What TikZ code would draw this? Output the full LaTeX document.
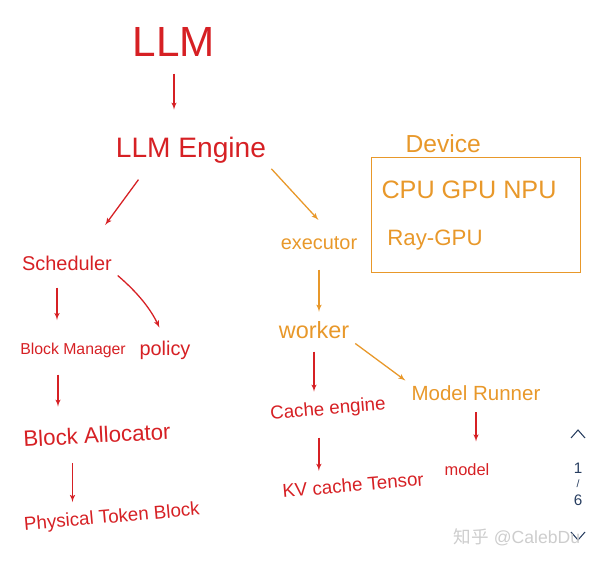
\documentclass[tikz,border=0pt]{standalone}
\usepackage{fontspec}
\setmainfont{Liberation Sans}
\newfontfamily\cjkfont{Noto Sans CJK SC}
\usepackage{tikz}
\usetikzlibrary{arrows}

\definecolor{penred}{RGB}{214,32,36}
\definecolor{penorange}{RGB}{232,152,42}
\definecolor{navblue}{RGB}{40,62,96}
\definecolor{markgray}{RGB}{205,205,205}

\tikzset{
    redtxt/.style = {text=penred, inner sep=1pt, font=\fontsize{#1}{#1}\selectfont},
    orangetxt/.style = {text=penorange, inner sep=1pt, font=\fontsize{#1}{#1}\selectfont},
    redarr/.style = {-latex', draw=penred, line width=1.1pt},
    orangearr/.style = {-latex', draw=penorange, line width=1.1pt},
    devbox/.style = {draw=penorange, line width=1.1pt, minimum width=6.27cm, minimum height=3.45cm}
}

\begin{document}
\begin{tikzpicture}[x = 0.03cm, y = -0.03cm]
    \useasboundingbox (0, 0) rectangle (592, 562);

    %% top
    \node[redtxt=36] (llm) at (174, 42) {LLM};
    \node[redtxt=24] (engine) at (191, 150) {LLM Engine};
    \draw[redarr, shorten <=13.5pt, shorten >=22pt] (llm.south) -- (llm.south |- engine.north);

    %% scheduler side
    \node[redtxt=17] (sched) at (67, 263) {Scheduler};
    \node[redtxt=13.5] (blockman) at (73, 350) {Block Manager};
    \node[redtxt=17] (policy) at (165, 350) {policy};
    \node[redtxt=19, rotate=3] (alloc) at (97, 435) {Block Allocator};
    \node[redtxt=16, rotate=5] (phys) at (112, 518) {Physical Token Block};

    \draw[redarr, shorten <=16pt, shorten >=31pt] ([xshift=1.05cm]engine.south west) -- ([xshift=0.5cm]sched.north);
    \draw[redarr, shorten <=13.5pt, shorten >=18pt] ([xshift=-0.3cm]sched.south) -- ([xshift=-0.3cm]sched.south |- blockman.north);
    \draw[redarr, shorten <=5pt, shorten >=11pt] (sched.south east) to[bend left=12] (policy.north);
    \draw[redarr, shorten <=13.5pt, shorten >=16pt] ([xshift=-0.45cm]blockman.south) -- ([xshift=-0.45cm]blockman.south |- alloc.north);
    \draw[redarr, shorten <=16pt, shorten >=5pt] ([xshift=-0.75cm]alloc.south) -- ([xshift=-0.75cm]alloc.south |- phys.north);

    %% executor side
    \node[orangetxt=17] (exec) at (319, 243) {executor};
    \node[devbox] (device) at (476, 215) {};
    \node[orangetxt=21, anchor=south west] (devlabel) at ([xshift=1cm, yshift=2pt]device.north west) {Device};
    \node[orangetxt=21.5] (cpu) at (469, 190) {CPU GPU NPU};
    \node[orangetxt=19] (ray) at (435, 240) {Ray-GPU};
    \node[orangetxt=20] (worker) at (314, 330) {worker};
    \node[orangetxt=17.5] (runner) at (476, 393) {Model Runner};
    \node[redtxt=16, rotate=5] (cache) at (328, 410) {Cache engine};
    \node[redtxt=16, rotate=5] (kv) at (353, 485) {KV cache Tensor};
    \node[redtxt=14] (model) at (467, 470) {model};

    \draw[orangearr, shorten <=5pt, shorten >=17.5pt] (engine.south east) -- ([xshift=0.4cm]exec.north);
    \draw[orangearr, shorten <=16pt, shorten >=7pt] (exec.south) -- (exec.south |- worker.north);
    \draw[redarr, shorten <=10pt, shorten >=7pt] (worker.south) -- (worker.south |- cache.north);
    \draw[orangearr, shorten <=5pt, shorten >=5pt] (worker.south east) -- (runner.north west);
    \draw[redarr, shorten <=15pt, shorten >=5pt] ([xshift=-0.3cm]cache.south) -- ([xshift=-0.3cm]cache.south |- kv.north);
    \draw[redarr, shorten <=9pt, shorten >=18pt] (runner.south) -- (runner.south |- model.north);

    %% page marks
    \draw[navblue, line width=0.9pt] (571, 438) -- (578, 430) -- (585, 438);
    \node[text=navblue, font=\fontsize{13}{13}\selectfont] (pgone) at (578, 468) {1};
    \node[text=navblue, font=\fontsize{9}{9}\selectfont] (pgsep) at (578, 484) {/};
    \node[text=navblue, font=\fontsize{13}{13}\selectfont] (pgsix) at (578, 500) {6};
    \draw[navblue, line width=0.9pt] (571, 532) -- (578, 540) -- (585, 532);
    \node[text=markgray, font=\fontsize{15}{15}\selectfont] (mark) at (517, 537) {{\cjkfont 知乎} @CalebDu};
\end{tikzpicture}
\end{document}
